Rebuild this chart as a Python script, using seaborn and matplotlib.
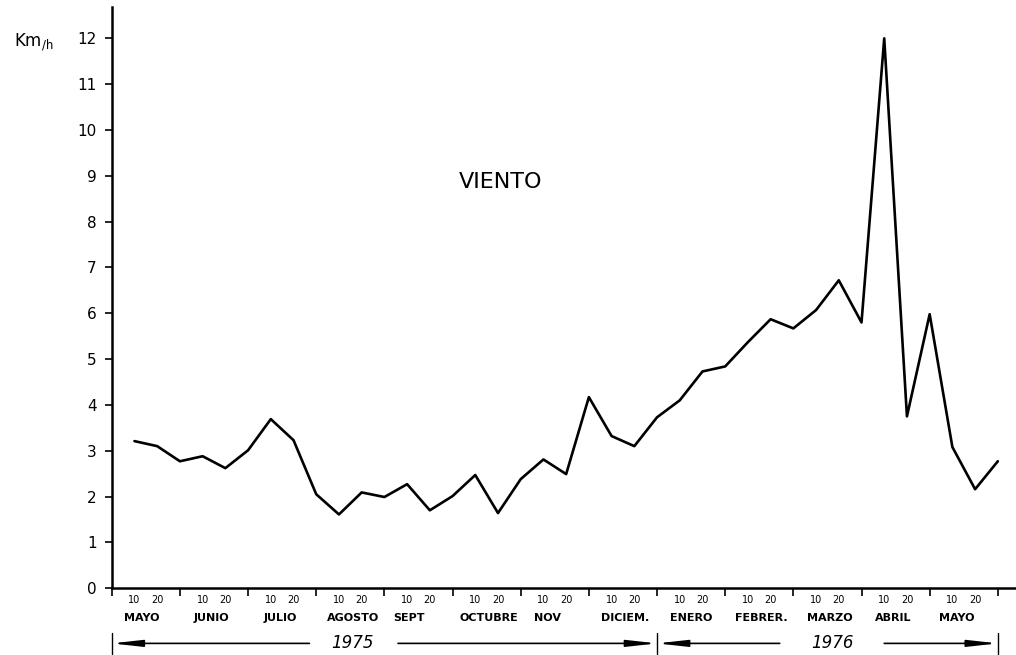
import numpy as np
import pandas as pd
import matplotlib
matplotlib.use("Agg")
from matplotlib import pyplot as plt
from matplotlib import transforms
import seaborn as sns

# velocidad media del viento por decena (km/h), mayo 1975 - mayo 1976
viento = [3.21, 3.10, 2.77, 2.88, 2.62, 3.01, 3.69, 3.23, 2.05,
          1.61, 2.09, 1.99, 2.27, 1.70, 2.01, 2.47, 1.64, 2.38,
          2.81, 2.49, 4.17, 3.32, 3.10, 3.73, 4.10, 4.73, 4.84,
          5.37, 5.87, 5.67, 6.07, 6.72, 5.80, 12.0, 3.75, 5.98,
          3.08, 2.16, 2.77]
meses = ["MAYO", "JUNIO", "JULIO", "AGOSTO", "SEPT", "OCTUBRE", "NOV",
         "DICIEM.", "ENERO", "FEBRER.", "MARZO", "ABRIL", "MAYO"]
decenas = ["10", "20"]
y_ticks = list(range(0, 13))

df = pd.DataFrame({"decena": np.arange(1, len(viento) + 1), "viento": viento})

sns.set_style("ticks", {"axes.edgecolor": "black", "text.color": "black",
                        "xtick.color": "black", "ytick.color": "black"})
plt.rcParams['font.family'] = ['DejaVu Sans']

fig = plt.figure(figsize=(10.16, 6.55), dpi=100)
ax = fig.add_axes([0.110, 0.102, 0.890, 0.887])

sns.lineplot(data=df, x="decena", y="viento", color="black", linewidth=1.9, ax=ax)

ax.set_xlim(0, 39.8)
ax.set_ylim(0, 12.68)
ax.set_xlabel("")
ax.set_ylabel("")
sns.despine(ax=ax)
for s in ["left", "bottom"]:
    ax.spines[s].set_linewidth(1.8)

ax.set_yticks(y_ticks)
ax.set_yticklabels([str(v) for v in y_ticks], fontsize=11)
ax.tick_params(axis="y", length=5, width=1.2, pad=6)

# limites de mes (marcas) y decenas (etiquetas)
n_mes = len(meses)
ax.set_xticks(np.arange(0, 3 * n_mes + 1, 3))
ax.set_xticklabels([])
ax.tick_params(axis="x", which="major", length=6, width=1.2, direction="out")
pos_dec = [3 * m + k + 1 for m in range(n_mes) for k in range(2)]
ax.set_xticks(pos_dec, minor=True)
ax.set_xticklabels(decenas * n_mes, minor=True, fontsize=7)
ax.tick_params(axis="x", which="minor", length=0, pad=5)

trans = transforms.blended_transform_factory(ax.transData, ax.transAxes)
desplaz = [-0.2, -0.1, -0.1, 0.1, -0.4, 0.1, -0.3, 0.1, 0.0, 0.1, 0.1, -0.1, -0.3]
for i, (m, d) in enumerate(zip(meses, desplaz)):
    ax.text(3 * i + 1.5 + d, -0.052, m, transform=trans, ha="center", va="center",
            fontsize=8, fontweight="bold")

# lineas de los años
yy = -0.095
flecha = dict(arrowstyle="-|>,head_length=1.8,head_width=0.2", color="black",
              lw=1.2, shrinkA=0, shrinkB=0)
ax.annotate("", xy=(0, yy), xytext=(8.7, yy), xycoords=trans, textcoords=trans,
            arrowprops=flecha, annotation_clip=False)
ax.annotate("", xy=(24, yy), xytext=(12.6, yy), xycoords=trans, textcoords=trans,
            arrowprops=flecha, annotation_clip=False)
ax.annotate("", xy=(24, yy), xytext=(29.4, yy), xycoords=trans, textcoords=trans,
            arrowprops=flecha, annotation_clip=False)
ax.annotate("", xy=(39, yy), xytext=(34, yy), xycoords=trans, textcoords=trans,
            arrowprops=flecha, annotation_clip=False)
for xb in [0, 24, 39]:
    ax.plot([xb, xb], [yy - 0.018, yy + 0.018], color="black", lw=1.0,
            transform=trans, clip_on=False)
ax.text(10.6, yy, "1975", transform=trans, ha="center", va="center",
        fontsize=12, style="italic")
ax.text(31.7, yy, "1976", transform=trans, ha="center", va="center",
        fontsize=12, style="italic")

ax.text(17.1, 8.86, "VIENTO", ha="center", va="center", fontsize=16)
fig.text(0.014, 0.935, r"Km$_{\mathregular{/h}}$", fontsize=12, ha="left", va="center")

fig.savefig("out.png", dpi=100, facecolor="white")
